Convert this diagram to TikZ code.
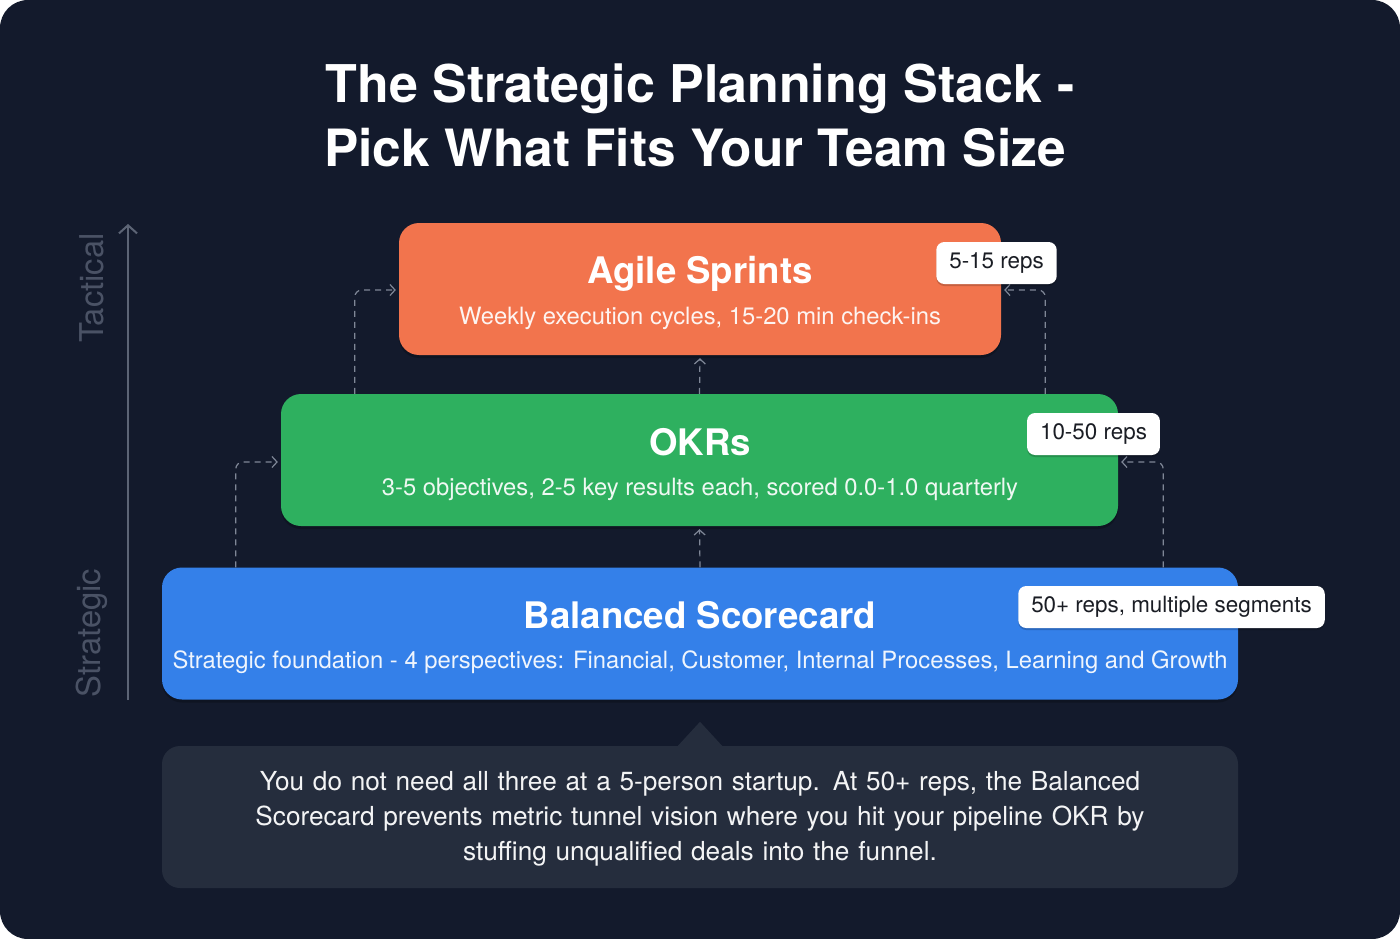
\documentclass[tikz,border=0pt]{standalone}
\usepackage{fontspec}
\setmainfont{TeX Gyre Heros}
\usetikzlibrary{arrows.meta,shadows,calc}
\definecolor{bgc}{HTML}{131A2C}
\definecolor{orangec}{HTML}{F2744D}
\definecolor{greenc}{HTML}{2EB05F}
\definecolor{bluec}{HTML}{3480E9}
\definecolor{notec}{HTML}{252D3D}
\definecolor{axisc}{HTML}{5C6475}
\definecolor{sidec}{HTML}{4A5265}
\definecolor{dashc}{HTML}{7F8797}
\definecolor{badgetext}{HTML}{1A1D24}
\newcommand\fsz[2]{\fontsize{#1}{#2}\selectfont}
\begin{document}
\begin{tikzpicture}[x=1pt,y=-1pt,
  layer/.style={rounded corners=20pt, inner sep=0pt, minimum height=132pt,
    drop shadow={shadow xshift=0pt, shadow yshift=-3pt, opacity=0.22, fill=black}},
  boxtitle/.style={text=white, anchor=base, inner sep=0pt, font=\fsz{36.6}{40}\bfseries},
  boxsub/.style={text=white, opacity=0.92, anchor=base, inner sep=0pt, font=\fsz{23.8}{28}},
  badge/.style={fill=white, text=badgetext, rounded corners=8pt, inner xsep=13pt, inner ysep=0pt,
    minimum height=42pt, font=\fsz{22.4}{26},
    drop shadow={shadow xshift=0pt, shadow yshift=-2pt, opacity=0.18, fill=black}},
  conn/.style={draw=dashc, line width=1.2pt, dash pattern=on 6pt off 5pt, rounded corners=7pt,
    -{Straight Barb[length=5pt,width=11pt]}, shorten >=3pt},
  sidelabel/.style={text=sidec, rotate=90, inner sep=0pt, font=\fsz{32.8}{36}}
]
\useasboundingbox (0,0) rectangle (1400,939);
\fill[white] (0,0) rectangle (1400,939);
\fill[bgc, rounded corners=28pt] (0,0) rectangle (1400,939);

% title
\node[text=white, anchor=base, inner sep=0pt, font=\fsz{52}{60}\bfseries] (t1) at (700,103) {The Strategic Planning Stack -};
\node[text=white, anchor=base, inner sep=0pt, font=\fsz{51.4}{60}\bfseries] (t2) at (695,166) {Pick What Fits Your Team Size};

% axis
\coordinate (axb) at (128,700);
\coordinate (axt) at (128,224);
\draw[axisc, line width=2pt, -{Straight Barb[length=8pt,width=18pt]}] (axb) -- (axt);
\node[sidelabel] (tac) at (92,288) {Tactical};
\node[sidelabel] (str) at (92,633) {Strategic};

% layers
\node[layer, fill=orangec, minimum width=602pt] (agile) at (700,289) {};
\node[layer, fill=greenc, minimum width=837pt] (okr) at (699.5,460) {};
\node[layer, fill=bluec, minimum width=1076pt] (bsc) at (700,633.5) {};

\node[boxtitle] (agileT) at (700,283) {Agile Sprints};
\node[boxsub] (agileS) at (700,324) {Weekly execution cycles, 15-20 min check-ins};
\node[boxtitle] (okrT) at (700,455) {OKRs};
\node[boxsub] (okrS) at (700,495) {3-5 objectives, 2-5 key results each, scored 0.0-1.0 quarterly};
\node[boxtitle] (bscT) at (700,628) {Balanced Scorecard};
\node[boxsub] (bscS) at (700,668) {Strategic foundation - 4 perspectives: Financial, Customer, Internal Processes, Learning and Growth};

% connectors
\draw[conn] ([xshift=74pt]bsc.north west) |- ([yshift=-2pt]okr.west);
\draw[conn] ([xshift=-75pt]bsc.north east) |- ([yshift=-2pt]okr.east);
\draw[conn] ([xshift=74pt]okr.north west) |- ([yshift=-1pt]agile.west);
\draw[conn] ([xshift=-73pt]okr.north east) |- ([yshift=-1pt]agile.east);
\draw[conn] (bsc.north) -- (okr.south);
\draw[conn] (okr.north) -- (agile.south);

% badges
\node[badge] (b1) at (996.5,263) {5-15 reps};
\node[badge] (b2) at (1093.5,434) {10-50 reps};
\node[badge] (b3) at (1171.5,607) {50+ reps, multiple segments};

% note
\node[fill=notec, rounded corners=18pt, minimum width=1076pt, minimum height=142pt, inner sep=0pt] (note) at (700,817) {};
\fill[notec] ($(note.north)+(-23,1)$) -- ($(note.north)+(0,-24)$) -- ($(note.north)+(23,1)$) -- cycle;
\node[text=white, opacity=0.95, align=center, inner sep=0pt, font=\fsz{26.2}{35}, text width=1040pt] (noteT) at ($(note.center)+(0,2)$)
  {You do not need all three at a 5-person startup. At 50+ reps, the Balanced\\Scorecard prevents metric tunnel vision where you hit your pipeline OKR by\\stuffing unqualified deals into the funnel.};
\end{tikzpicture}
\end{document}
